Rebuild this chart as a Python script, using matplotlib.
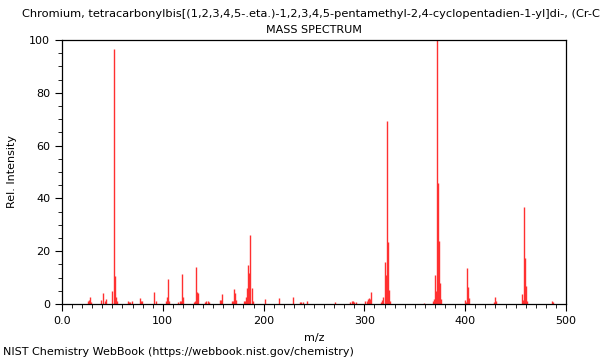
#!usr/bin/env python

import matplotlib
matplotlib.use('Agg')
import matplotlib.pyplot as plt
from matplotlib.ticker import MultipleLocator


# Peak list (m/z, relative intensity)
mz = [26, 27, 28, 29, 39, 41, 43, 44, 50, 52, 53, 54, 55, 65, 66, 67, 69,
      77, 78, 79, 91, 93, 103, 104, 105, 106, 115, 117, 118, 119, 120,
      131, 132, 133, 134, 135, 142, 143, 145, 146, 157, 158, 159,
      169, 170, 171, 172, 173, 181, 182, 183, 184, 185, 186, 187, 188, 189,
      201, 215, 229, 236, 237, 239, 243, 271, 286, 288, 289, 290, 292,
      301, 303, 304, 305, 306, 307, 316, 317, 318, 320, 321, 322, 323, 324, 325,
      359, 368, 369, 370, 371, 372, 373, 374, 375, 376,
      400, 401, 402, 403, 404, 429, 430, 431,
      456, 457, 458, 459, 460, 461, 486, 487]
rel_int = [1.0, 1.6, 2.8, 0.6, 1.5, 4.3, 1.2, 1.8, 4.9, 96.5, 10.7, 2.8, 1.0, 1.0, 0.7, 0.7, 1.0,
           2.2, 1.0, 1.2, 4.7, 1.0, 1.3, 2.5, 9.5, 1.2, 0.8, 1.0, 1.2, 11.4, 2.5,
           0.7, 1.0, 14.1, 4.4, 4.0, 0.7, 1.0, 1.2, 0.8, 1.5, 1.5, 3.8,
           1.0, 1.2, 5.7, 4.0, 1.5, 1.0, 1.2, 2.5, 6.0, 14.8, 11.6, 26.1, 6.0, 1.2,
           2.0, 2.4, 2.8, 0.6, 0.8, 0.7, 1.3, 0.7, 0.8, 1.0, 1.3, 0.9, 0.8,
           1.0, 1.2, 2.0, 2.2, 2.0, 4.5, 0.7, 1.5, 2.8, 16.0, 11.0, 69.4, 23.6, 5.3, 1.0,
           0.5, 1.0, 2.0, 11.0, 5.0, 100.0, 46.0, 24.0, 8.0, 2.0,
           1.5, 0.8, 13.5, 6.6, 2.2, 0.8, 2.5, 1.0,
           3.8, 1.7, 36.8, 17.5, 6.8, 1.2, 1.0, 0.7]

x_ticks = [0, 100, 200, 300, 400, 500]
x_tick_labels = ['0.0', '100', '200', '300', '400', '500']
y_ticks = [0, 20, 40, 60, 80, 100]

compound = ('Chromium, tetracarbonylbis[(1,2,3,4,5-.eta.)-1,2,3,4,5-pentamethyl-'
            '2,4-cyclopentadien-1-yl]di-, (Cr-Cr)')


def main():
    fig = plt.figure(figsize=(6, 3.6), dpi=100)
    ax = fig.add_axes([62 / 600, 56 / 360, 504 / 600, 264 / 360])

    # spectrum sticks
    ax.vlines(mz, 0, rel_int, colors='#ff3030', linewidth=1)

    ax.set_xlim(0, 500)
    ax.set_ylim(0, 100)
    ax.set_xticks(x_ticks)
    ax.set_xticklabels(x_tick_labels)
    ax.set_yticks(y_ticks)
    ax.xaxis.set_minor_locator(MultipleLocator(10))
    ax.yaxis.set_minor_locator(MultipleLocator(5))
    ax.tick_params(which='major', direction='out', length=5, labelsize=8, width=0.8)
    ax.tick_params(which='minor', direction='out', length=3, width=0.6)
    for s in ax.spines.values():
        s.set_linewidth(0.9)

    ax.set_xlabel('m/z', fontsize=8)
    ax.set_ylabel('Rel. Intensity', fontsize=8)
    ax.yaxis.set_label_coords(-0.09, 0.5)
    ax.xaxis.set_label_coords(0.5, -0.11)

    # titles, first line runs off the right edge like the original
    fig.text(22 / 600, 1 - 14 / 360, compound, fontsize=8.2, ha='left', va='center')
    fig.text(314 / 600, 1 - 30 / 360, 'MASS SPECTRUM', fontsize=8, ha='center', va='center')
    fig.text(3 / 600, 1 - 352 / 360, 'NIST Chemistry WebBook (https://webbook.nist.gov/chemistry)',
             fontsize=8, ha='left', va='center')

    fig.savefig('out.png', dpi=100)


if __name__ == '__main__':
    main()
